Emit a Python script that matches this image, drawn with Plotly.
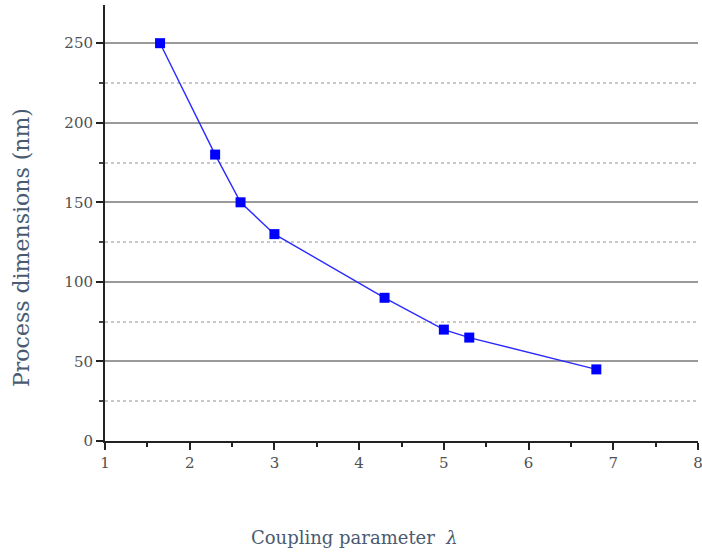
import plotly.graph_objects as go

coupling = [1.65, 2.3, 2.6, 3.0, 4.3, 5.0, 5.3, 6.8]
dimensions = [250, 180, 150, 130, 90, 70, 65, 45]
x_ticks = [1, 2, 3, 4, 5, 6, 7, 8]
y_ticks = [0, 50, 100, 150, 200, 250]

fig = go.Figure()
fig.add_trace(go.Scatter(
    x=coupling, y=dimensions, mode="lines+markers",
    line=dict(color="#2a2aff", width=1.4),
    marker=dict(symbol="square", size=10, color="#0000ff"),
    showlegend=False,
))

font_family = "DejaVu Serif, Liberation Serif, serif"
tick_color = "#505050"
title_color = "#4a5a70"
fig.update_layout(
    width=702, height=553,
    margin=dict(l=105, r=4, t=5, b=112, autoexpand=False),
    plot_bgcolor="white", paper_bgcolor="white",
    font=dict(family=font_family, size=15, color=tick_color),
    xaxis=dict(
        range=[1, 8], tickvals=x_ticks, showgrid=False, zeroline=False, automargin=False,
        ticklabeloverflow="allow",
        showline=True, linecolor="#222222", linewidth=2,
        ticks="outside", ticklen=7, tickwidth=2, tickcolor="#222222",
        minor=dict(dtick=0.5, ticks="outside", ticklen=4, tickwidth=2, tickcolor="#222222", showgrid=False),
        tickfont=dict(size=15, color=tick_color),
    ),
    yaxis=dict(
        range=[0, 274], tickvals=y_ticks, zeroline=False, automargin=False,
        ticklabeloverflow="allow",
        showline=True, linecolor="#222222", linewidth=2,
        ticks="outside", ticklen=7, tickwidth=2, tickcolor="#222222",
        showgrid=True, gridcolor="#9a9a9a", gridwidth=2,
        minor=dict(dtick=25, ticks="outside", ticklen=4, tickwidth=1.5, tickcolor="#444444",
                   showgrid=True, gridcolor="#c8c8c8", griddash="dot", gridwidth=1.5),
        tickfont=dict(size=15, color=tick_color),
    ),
    annotations=[
        dict(text="Coupling parameter  <i>λ</i>", xref="paper", yref="paper",
             x=(354 - 105) / 593, y=-(537 - 441) / 436, xanchor="center", yanchor="middle", showarrow=False,
             font=dict(family=font_family, size=18, color=title_color)),
        dict(text="Process dimensions (nm)", xref="paper", yref="paper",
             x=-(105 - 21) / 593, y=(441 - 247) / 436, xanchor="center", yanchor="middle", textangle=-90,
             showarrow=False,
             font=dict(family=font_family, size=22, color=title_color)),
    ],
)

fig.write_html("out.html", config={"displayModeBar": False},
               post_script="document.body.style.margin='0';document.body.style.overflow='hidden';")
